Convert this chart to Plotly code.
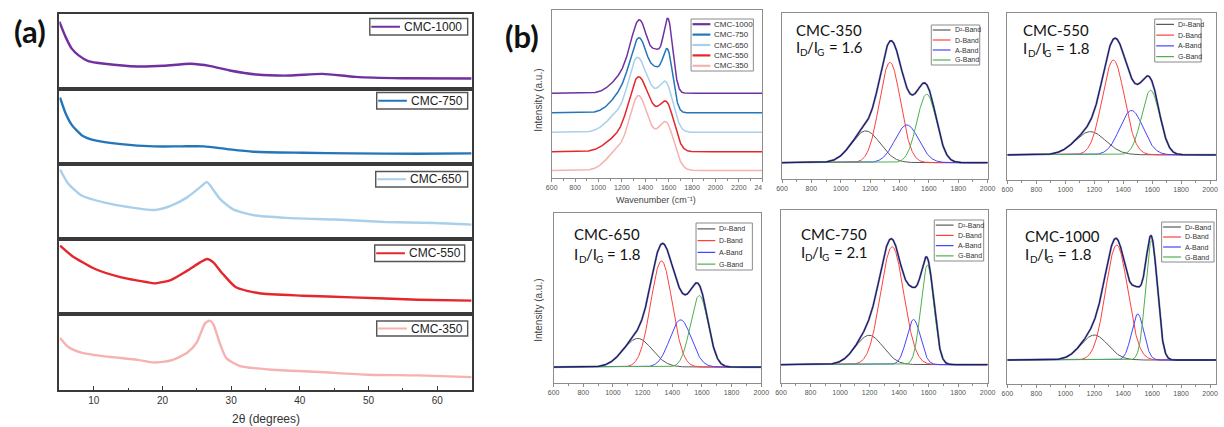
import numpy as np
import plotly.graph_objects as go

W, H = 1224, 427

# ---------------- (a) XRD patterns ----------------
# intensity given as % of each stacked strip's height
xrd_names = ["CMC-1000", "CMC-750", "CMC-650", "CMC-550", "CMC-350"]
xrd_colors = ["#7030A0", "#2476B8", "#A9D0EA", "#E3272B", "#F6B1B1"]

tt_1000 = [5.0, 5.9, 6.8, 7.8, 9.2, 11.6, 16.4, 20.2, 24.1, 27.0, 29.8, 33.7, 38.5, 43.3, 48.1, 54.8, 65.0]
xrd_1000 = [89.7, 69.5, 53.8, 44.8, 37.2, 33.6, 30.0, 30.9, 33.6, 30.5, 24.7, 19.3, 17.9, 20.2, 16.1, 14.3, 13.9]

tt_750 = [5.1, 5.9, 6.8, 8.3, 10.2, 14.0, 18.8, 22.7, 26.0, 29.4, 33.2, 40.4, 47.6, 57.2, 65.0]
xrd_750 = [88.5, 67.7, 52.2, 38.1, 31.4, 26.5, 23.5, 23.5, 23.5, 19.9, 16.4, 15.0, 14.2, 13.7, 14.2]

tt_650 = [5.1, 6.3, 8.3, 11.6, 15.0, 18.8, 21.2, 23.6, 25.5, 26.5, 27.4, 28.4, 30.3, 33.2, 38.0, 45.2, 52.4, 59.6, 65.0]
xrd_650 = [92.7, 73.6, 57.7, 48.6, 42.7, 38.6, 44.1, 55.5, 69.1, 75.9, 65.5, 53.2, 39.5, 31.8, 28.2, 25.9, 22.7, 21.4, 19.1]

tt_550 = [5.1, 6.8, 10.2, 14.0, 17.9, 18.8, 21.2, 23.6, 25.5, 26.5, 27.4, 28.8, 30.7, 34.1, 40.4, 47.6, 57.2, 65.0]
xrd_550 = [91.1, 77.8, 60.0, 48.9, 42.2, 40.9, 45.3, 57.8, 68.9, 73.3, 68.9, 53.3, 35.6, 27.6, 24.4, 22.2, 19.1, 17.8]

tt_350 = [5.1, 6.3, 8.3, 11.6, 16.4, 18.8, 21.2, 23.6, 25.0, 26.2, 26.9, 27.4, 28.4, 29.3, 31.3, 35.6, 42.8, 50.0, 57.2, 65.0]
xrd_350 = [68.5, 56.6, 48.9, 44.3, 39.7, 36.1, 38.8, 48.9, 62.6, 87.7, 91.3, 86.8, 60.3, 42.0, 31.5, 26.9, 23.7, 20.1, 19.2, 16.9]

xrd_theta = [tt_1000, tt_750, tt_650, tt_550, tt_350]
xrd_int = [xrd_1000, xrd_750, xrd_650, xrd_550, xrd_350]

# ---------------- (b) Raman band fits ----------------
raman_names = ["CMC-350", "CMC-550", "CMC-650", "CMC-750", "CMC-1000"]
raman_colors = ["#F6B1B1", "#E3272B", "#A9D0EA", "#2476B8", "#7030A0"]
band_names = ["D²-Band", "D-Band", "A-Band", "G-Band"]
band_colors = ["#5a5a5a", "#FF4040", "#4444FF", "#4DB04D"]

# band centre (cm-1), FWHM (cm-1), height (a.u.): D2, D, A, G
centre_350 = [1170, 1335, 1450, 1585]
fwhm_350 = [230, 170, 190, 155]
height_350 = [95, 300, 113, 205]

centre_550 = [1173, 1332, 1457, 1589]
fwhm_550 = [250, 180, 190, 147]
height_550 = [69, 282, 132, 192]

centre_650 = [1167, 1327, 1456, 1582]
fwhm_650 = [230, 170, 170, 140]
height_650 = [86, 319, 142, 215]

centre_750 = [1197, 1353, 1498, 1592]
fwhm_750 = [220, 185, 110, 104]
height_750 = [88, 353, 135, 298]

centre_1000 = [1200, 1355, 1500, 1595]
fwhm_1000 = [220, 180, 100, 96]
height_1000 = [75, 345, 138, 358]

centres = [centre_350, centre_550, centre_650, centre_750, centre_1000]
fwhms = [fwhm_350, fwhm_550, fwhm_650, fwhm_750, fwhm_1000]
heights = [height_350, height_550, height_650, height_750, height_1000]

# vertical offsets of the normalised spectra in the stacked plot
stack_offset = [0.0, 0.25, 0.51, 0.77, 1.03]


def band(x, c, w, h):
    return h * np.exp(-4.0 * np.log(2.0) * (x - c) ** 2 / w ** 2)


def px(x):
    return x / W


def py(y):
    return 1 - y / H


def keys(n):
    s = "" if n == 1 else str(n)
    return "xaxis" + s, "yaxis" + s, "x" + s, "y" + s


fig = go.Figure()
layout = dict(width=W, height=H, margin=dict(l=0, r=0, t=0, b=0),
              paper_bgcolor="white", plot_bgcolor="white", showlegend=False)
shapes = []
annotations = []

SANS = "Liberation Sans, Arial, sans-serif"
LATO = "Lato, Liberation Sans, sans-serif"


def text_at(x, y, text, size, family=SANS, color="#333", xanchor="left", angle=0):
    annotations.append(dict(xref="paper", yref="paper", x=px(x), y=py(y), text=text,
                            showarrow=False, xanchor=xanchor, yanchor="middle", textangle=angle,
                            font=dict(family=family, size=size, color=color)))


def add_legend(box, names, colors, line_len, font_size, line_width,
               border="#8a8a8a", border_w=1.0, text_color="#333"):
    x0, y0, x1, y1 = box
    shapes.append(dict(type="rect", xref="paper", yref="paper",
                       x0=px(x0), x1=px(x1), y0=py(y1), y1=py(y0),
                       line=dict(color=border, width=border_w),
                       fillcolor="white", layer="above"))
    n = len(names)
    step = (y1 - y0) / n
    for k, (nm, col) in enumerate(zip(names, colors)):
        yc = y0 + step * (k + 0.5)
        shapes.append(dict(type="line", xref="paper", yref="paper",
                           x0=px(x0 + 1.5), x1=px(x0 + 1.5 + line_len), y0=py(yc), y1=py(yc),
                           line=dict(color=col, width=line_width), layer="above"))
        text_at(x0 + line_len + 3.5, yc, nm, font_size, color=text_color)


# ---- (a) stacked strips ----
strip_edges = [14, 89, 164, 239, 314, 390]
frame_a = "#3a3a3a"
for i in range(5):
    n = i + 1
    xa, ya, xr, yr = keys(n)
    bottom = (i == 4)
    xax = dict(domain=[px(54), px(471)], range=[5, 65], anchor=yr,
               showline=True, mirror=True, linecolor=frame_a, linewidth=1.5,
               showgrid=False, zeroline=False, showticklabels=bottom)
    if bottom:
        xax.update(ticks="inside", tick0=0, dtick=10, ticklen=4, tickwidth=1, tickcolor=frame_a,
                   tickfont=dict(family=SANS, size=10, color="#333"),
                   minor=dict(ticks="inside", dtick=5, ticklen=2.5, tickwidth=1, tickcolor=frame_a))
    else:
        xax.update(ticks="")
    layout[xa] = xax
    layout[ya] = dict(domain=[py(strip_edges[i + 1]), py(strip_edges[i])], range=[0, 100], anchor=xr,
                      showline=True, mirror=True, linecolor=frame_a, linewidth=1.5,
                      showgrid=False, zeroline=False, showticklabels=False, ticks="")
    fig.add_trace(go.Scatter(x=xrd_theta[i], y=xrd_int[i], mode="lines", name=xrd_names[i],
                             line=dict(color=xrd_colors[i], width=2.4, shape="spline", smoothing=0.6),
                             xaxis=xr, yaxis=yr, hoverinfo="skip"))

legend_boxes_a = [(368, 18.5, 467, 35), (375, 92.5, 467, 109), (374, 171.5, 467, 187),
                  (373, 245, 464, 261.5), (375, 321, 467, 336)]
for i in range(5):
    add_legend(legend_boxes_a[i], [xrd_names[i]], [xrd_colors[i]], 29, 12, 2,
               border="#555", border_w=1.4, text_color="#222")

text_at(263, 419, "2θ (degrees)", 12, xanchor="center")
text_at(6, 31, "<b>(a)</b>", 31, family=LATO, color="#111")
text_at(503, 36, "<b>(b)</b>", 31, family=LATO, color="#111")

# ---- (b) axes ----
frame_b = "#8c8c8c"


def raman_axes(n, xbox, ybox, xrange_, yrange_, dtick):
    xa, ya, xr, yr = keys(n)
    layout[xa] = dict(domain=[px(xbox[0]), px(xbox[1])], range=xrange_, anchor=yr,
                      showline=True, mirror=True, linecolor=frame_b, linewidth=1,
                      showgrid=False, zeroline=False, ticks="outside", tick0=0, dtick=dtick,
                      ticklen=3, tickwidth=1, tickcolor=frame_b,
                      tickfont=dict(family=SANS, size=7, color="#555"),
                      minor=dict(ticks="outside", dtick=dtick / 2, ticklen=2, tickwidth=1, tickcolor=frame_b))
    layout[ya] = dict(domain=[py(ybox[1]), py(ybox[0])], range=yrange_, anchor=xr,
                      showline=True, mirror=True, linecolor=frame_b, linewidth=1,
                      showgrid=False, zeroline=False, showticklabels=False, ticks="")
    return xr, yr


# stacked, normalised spectra
xr6, yr6 = raman_axes(6, (552, 765), (10, 178), [600, 2400], [-0.10, 2.14], 200)
wn_stack = np.arange(600, 2401, 2.0)
for j in range(4, -1, -1):
    env = sum(band(wn_stack, c, w, h) for c, w, h in zip(centres[j], fwhms[j], heights[j]))
    fig.add_trace(go.Scatter(x=wn_stack, y=env / env.max() + stack_offset[j], mode="lines",
                             name=raman_names[j], line=dict(color=raman_colors[j], width=1.5),
                             xaxis=xr6, yaxis=yr6, hoverinfo="skip"))
add_legend((693, 19, 756, 71), raman_names[::-1], raman_colors[::-1], 18, 8, 2.2)
text_at(658, 200, "Wavenumber (cm⁻¹)", 9, color="#444", xanchor="center")
for yc in (100, 310):
    text_at(538, yc, "Intensity (a.u.)", 10, color="#444", xanchor="center", angle=-90)
# the neighbouring fit panel sits over the tail of the last tick label
shapes.append(dict(type="rect", xref="paper", yref="paper", x0=px(764.5), x1=px(778),
                   y0=py(195), y1=py(182), line=dict(width=0), fillcolor="white", layer="above"))

# fitted spectra panels
fit_axes = [
    (7, (785, 993), (13, 179), [600, 2000], [-49, 448]),
    (8, (1013, 1224), (13, 180), [600, 2041], [-75, 422]),
    (9, (554, 764), (213, 383), [600, 2000], [-48, 463]),
    (10, (784, 993), (210, 383), [600, 2000], [-55, 463]),
    (11, (1013, 1224), (210, 384), [600, 2041], [-72, 450]),
]
fit_legend_boxes = [(936, 25, 985, 65), (1162, 19, 1209, 62), (698, 223, 755, 270),
                    (939, 220, 989, 261), (1169, 222, 1222, 262)]
fit_label_pos = [(797, 30, 47), (1027, 30, 48), (573, 234, 254), (802, 234, 252), (1029, 236, 254)]


def ratio_label(x, y, value, size=15):
    # "I_D/I_G = value" with hand-placed subscripts
    sub = round(size * 0.66)
    dy = size * 0.3
    x_d = x + 0.29 * size
    x_slash = x_d + 0.72 * sub
    x_g = x_slash + 0.66 * size
    x_eq = x_g + 0.72 * sub + 0.3 * size
    text_at(x, y, "I", size, family=LATO, color="#111")
    text_at(x_d, y + dy, "D", sub, family=LATO, color="#111")
    text_at(x_slash, y, "/I", size, family=LATO, color="#111")
    text_at(x_g, y + dy, "G", sub, family=LATO, color="#111")
    text_at(x_eq, y, f"= {value:.1f}", size, family=LATO, color="#111")


for j in range(5):
    n, xbox, ybox, xrg, yrg = fit_axes[j]
    xr, yr = raman_axes(n, xbox, ybox, xrg, yrg, 200)
    wn = np.arange(600, xrg[1] + 1, 2.0)
    comps = [band(wn, c, w, h) for c, w, h in zip(centres[j], fwhms[j], heights[j])]
    env = sum(comps)
    fig.add_trace(go.Scatter(x=wn, y=env, mode="lines", line=dict(color="#b0b0b0", width=2.2),
                             xaxis=xr, yaxis=yr, hoverinfo="skip"))
    for comp, col in zip(comps, band_colors):
        fig.add_trace(go.Scatter(x=wn, y=comp, mode="lines", line=dict(color=col, width=1),
                                 xaxis=xr, yaxis=yr, hoverinfo="skip"))
    fig.add_trace(go.Scatter(x=wn, y=env, mode="lines", line=dict(color="#1b1b78", width=1.3),
                             xaxis=xr, yaxis=yr, hoverinfo="skip"))
    add_legend(fit_legend_boxes[j], band_names, band_colors, 18, 7, 1.2)

    # I_D/I_G from integrated band areas (height x FWHM for equal band shapes)
    ratio = (heights[j][1] * fwhms[j][1]) / (heights[j][3] * fwhms[j][3])
    lx, ly1, ly2 = fit_label_pos[j]
    text_at(lx, ly1, raman_names[j], 15, family=LATO, color="#111")
    ratio_label(lx, ly2, ratio)

layout["shapes"] = shapes
layout["annotations"] = annotations
fig.update_layout(**layout)
fig.write_html("out.html")
